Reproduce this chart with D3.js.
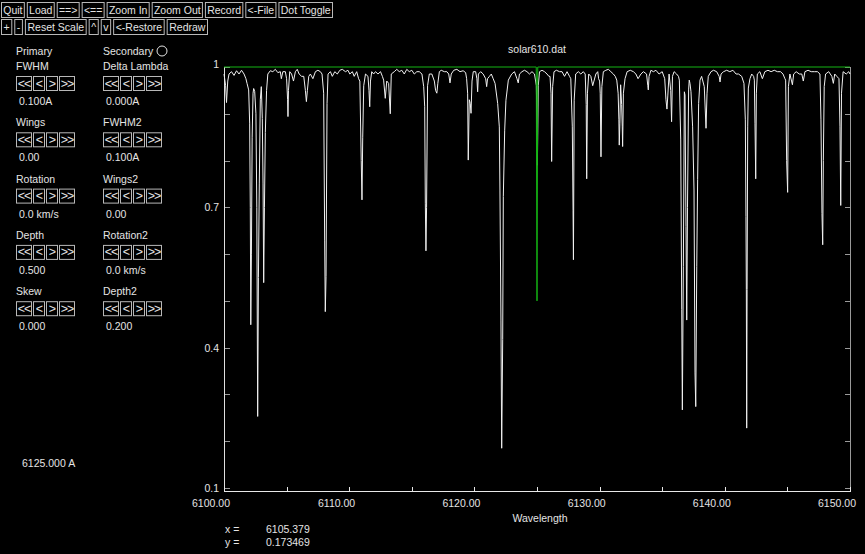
<!DOCTYPE html>
<html>
<head>
<meta charset="utf-8">
<script src="https://cdn.jsdelivr.net/npm/d3@7.9.0/dist/d3.min.js"></script>
<style>
  html, body { margin: 0; padding: 0; background: #000; }
  svg { display: block; }
  text { font-family: "Liberation Sans", "DejaVu Sans", sans-serif; font-size: 10.5px; fill: #e4e4e4; }
  text.step { font-size: 12.5px; }
</style>
</head>
<body>
<svg id="chart" width="865" height="554"></svg>
<script>
// ---- data ----
const fileName = 'solar610.dat';
const topButtons = ['Quit', 'Load', '==>', '<==', 'Zoom In', 'Zoom Out', 'Record', '<-File', 'Dot Toggle'];
const secondButtons = ['+', '-', 'Reset Scale', '^', 'v', '<-Restore', 'Redraw'];
const stepButtons = ['<<', '<', '>', '>>'];

const primaryParams = ['FWHM', 'Wings', 'Rotation', 'Depth', 'Skew'];
const primaryValues = ['0.100A', '0.00', '0.0 km/s', '0.500', '0.000'];
const secondaryParams = ['Delta Lambda', 'FWHM2', 'Wings2', 'Rotation2', 'Depth2'];
const secondaryValues = ['0.000A', '0.100A', '0.00', '0.0 km/s', '0.200'];
const lineCentre = '6125.000 A';

const xTicks = [6100, 6105, 6110, 6115, 6120, 6125, 6130, 6135, 6140, 6145, 6150];
const xTickLabels = [6100, 6110, 6120, 6130, 6140, 6150];
const yTicks = [0.1, 0.2, 0.3, 0.4, 0.5, 0.6, 0.7, 0.8, 0.9, 1];
const yTickLabels = [0.1, 0.4, 0.7, 1];
const cursorX = '6105.379';
const cursorY = '0.173469';

// model line (green): depth 0.5 at 6125.000 A
const modelLine = [[6100, 1], [6124.94, 1], [6125.0, 0.5], [6125.06, 1], [6150, 1]];

// observed spectrum [wavelength, flux]
const solarSpectrum = [
  [6100.00,0.985],[6100.13,0.96],[6100.20,0.924],[6100.30,0.97],[6100.40,0.985],
  [6100.60,0.99],[6100.80,0.982],[6101.00,0.992],[6101.20,0.985],[6101.40,0.993],[6101.60,0.985],[6101.75,0.975],
  [6101.84,0.965],[6101.97,0.951],[6102.05,0.88],[6102.10,0.70],[6102.14,0.449],[6102.19,0.60],[6102.25,0.85],
  [6102.32,0.944],[6102.37,0.954],[6102.45,0.948],[6102.55,0.90],[6102.62,0.70],[6102.69,0.253],[6102.75,0.55],
  [6102.82,0.75],[6102.90,0.93],[6102.98,0.958],[6103.06,0.89],[6103.12,0.75],[6103.17,0.539],[6103.23,0.70],
  [6103.30,0.86],[6103.40,0.95],[6103.50,0.985],
  [6103.70,0.992],[6103.90,0.99],[6104.10,0.995],[6104.30,0.988],[6104.50,0.99],[6104.58,0.975],[6104.70,0.99],[6104.90,0.99],
  [6105.00,0.975],[6105.08,0.93],[6105.11,0.894],[6105.15,0.95],[6105.25,0.99],
  [6105.40,0.985],[6105.55,0.97],[6105.70,0.99],[6105.85,0.995],[6106.00,0.985],[6106.20,0.98],
  [6106.37,0.98],[6106.50,0.95],[6106.58,0.926],[6106.66,0.95],[6106.77,0.98],
  [6106.90,0.985],[6107.10,0.975],[6107.30,0.99],[6107.50,0.993],[6107.70,0.99],
  [6107.83,0.985],[6107.96,0.944],[6108.04,0.63],[6108.09,0.477],[6108.15,0.552],[6108.23,0.922],[6108.31,0.985],
  [6108.50,0.99],[6108.65,0.98],[6108.85,0.99],[6109.05,0.985],[6109.25,0.993],[6109.45,0.995],[6109.70,0.99],
  [6109.90,0.993],[6110.05,0.985],[6110.25,0.99],[6110.40,0.98],[6110.60,0.99],[6110.75,0.975],
  [6110.85,0.97],[6110.96,0.80],[6111.02,0.716],[6111.08,0.85],[6111.16,0.96],[6111.30,0.985],
  [6111.50,0.98],[6111.58,0.95],[6111.64,0.915],[6111.70,0.97],[6111.80,0.99],
  [6111.95,0.985],[6112.10,0.99],[6112.30,0.985],[6112.50,0.99],[6112.65,0.98],
  [6112.75,0.972],[6112.88,0.933],[6113.00,0.97],[6113.15,0.965],[6113.28,0.90],[6113.36,0.985],
  [6113.60,0.99],[6113.80,0.995],[6114.00,0.99],[6114.20,0.993],[6114.40,0.985],[6114.60,0.995],[6114.80,0.99],
  [6115.00,0.993],[6115.20,0.985],[6115.40,0.99],[6115.60,0.99],
  [6115.81,0.985],[6115.95,0.958],[6116.03,0.915],[6116.08,0.709],[6116.13,0.607],[6116.18,0.70],[6116.26,0.96],[6116.40,0.985],
  [6116.60,0.985],[6116.80,0.97],[6116.90,0.95],[6117.00,0.944],[6117.08,0.965],[6117.20,0.99],
  [6117.35,0.993],[6117.60,0.99],[6117.80,0.99],[6117.95,0.985],[6118.05,0.966],[6118.15,0.985],
  [6118.35,0.993],[6118.60,0.995],[6118.85,0.99],[6119.10,0.992],[6119.30,0.988],
  [6119.38,0.975],[6119.46,0.944],[6119.51,0.801],[6119.59,0.93],[6119.67,0.922],[6119.73,0.901],[6119.81,0.97],[6119.91,0.99],
  [6120.10,0.99],[6120.20,0.975],[6120.26,0.947],[6120.32,0.985],[6120.50,0.99],[6120.70,0.985],[6120.90,0.975],
  [6120.98,0.958],[6121.05,0.975],[6121.20,0.98],
  [6121.35,0.985],[6121.50,0.975],[6121.65,0.965],[6121.86,0.922],[6121.99,0.872],[6122.04,0.737],[6122.12,0.459],
  [6122.18,0.185],[6122.26,0.417],[6122.31,0.723],[6122.42,0.865],[6122.52,0.929],[6122.71,0.972],[6122.98,0.985],
  [6123.20,0.99],[6123.40,0.975],[6123.50,0.966],[6123.60,0.985],[6123.80,0.99],[6124.00,0.993],[6124.20,0.99],
  [6124.40,0.985],[6124.60,0.99],[6124.80,0.985],
  [6124.95,0.96],[6125.03,0.79],[6125.10,0.96],
  [6125.20,0.99],[6125.40,0.993],[6125.60,0.99],[6125.80,0.985],[6125.95,0.98],
  [6126.04,0.98],[6126.12,0.944],[6126.17,0.798],[6126.25,0.958],[6126.36,0.99],
  [6126.55,0.993],[6126.80,0.99],[6127.00,0.99],[6127.20,0.98],[6127.40,0.99],[6127.60,0.98],
  [6127.70,0.975],[6127.82,0.872],[6127.88,0.694],[6127.91,0.588],[6127.97,0.929],[6128.09,0.985],
  [6128.30,0.99],[6128.50,0.985],[6128.70,0.99],
  [6128.85,0.985],[6128.93,0.92],[6128.97,0.761],[6129.03,0.944],[6129.13,0.985],
  [6129.30,0.98],[6129.45,0.96],[6129.55,0.97],[6129.70,0.985],[6129.85,0.99],[6129.92,0.975],
  [6130.00,0.97],[6130.05,0.944],[6130.11,0.808],[6130.18,0.958],[6130.30,0.99],
  [6130.50,0.993],[6130.70,0.995],[6130.90,0.99],[6131.10,0.985],[6131.25,0.98],
  [6131.37,0.972],[6131.48,0.944],[6131.54,0.887],[6131.57,0.833],[6131.62,0.88],[6131.68,0.962],[6131.76,0.92],
  [6131.81,0.872],[6131.84,0.83],[6131.90,0.944],[6132.03,0.975],
  [6132.20,0.99],[6132.45,0.993],[6132.70,0.99],[6132.90,0.985],[6133.07,0.975],
  [6133.30,0.985],[6133.50,0.99],[6133.75,0.985],[6133.85,0.96],[6133.89,0.951],[6133.95,0.98],[6134.10,0.993],
  [6134.30,0.99],[6134.50,0.993],[6134.75,0.985],[6135.00,0.99],[6135.20,0.975],[6135.30,0.93],[6135.38,0.91],
  [6135.45,0.94],[6135.55,0.985],[6135.68,0.95],[6135.75,0.883],[6135.82,0.98],[6135.95,0.99],[6136.15,0.985],[6136.30,0.98],
  [6136.37,0.972],[6136.48,0.844],[6136.56,0.481],[6136.61,0.267],[6136.69,0.573],[6136.77,0.947],[6136.82,0.94],
  [6136.90,0.659],[6136.96,0.459],[6137.02,0.70],[6137.11,0.951],[6137.16,0.972],[6137.22,0.965],[6137.30,0.947],
  [6137.43,0.872],[6137.54,0.737],[6137.62,0.346],[6137.68,0.274],[6137.76,0.573],[6137.83,0.759],[6137.91,0.922],
  [6138.02,0.972],[6138.15,0.98],[6138.36,0.958],[6138.50,0.869],[6138.58,0.944],[6138.68,0.98],[6138.90,0.99],
  [6139.10,0.993],[6139.35,0.99],[6139.55,0.98],[6139.62,0.968],[6139.70,0.985],[6139.90,0.99],[6140.15,0.993],
  [6140.40,0.99],[6140.65,0.993],[6140.90,0.985],[6141.10,0.985],
  [6141.35,0.98],[6141.53,0.965],[6141.64,0.887],[6141.69,0.68],[6141.72,0.524],[6141.75,0.228],[6141.78,0.524],
  [6141.83,0.872],[6141.88,0.955],[6142.01,0.975],[6142.15,0.985],[6142.30,0.98],
  [6142.36,0.972],[6142.41,0.88],[6142.47,0.761],[6142.52,0.944],[6142.60,0.985],
  [6142.80,0.99],[6143.00,0.975],[6143.20,0.99],[6143.45,0.993],[6143.70,0.99],[6143.95,0.993],[6144.20,0.99],
  [6144.45,0.99],[6144.65,0.985],[6144.80,0.975],
  [6144.86,0.972],[6144.94,0.80],[6145.02,0.732],[6145.08,0.958],[6145.20,0.985],[6145.33,0.97],[6145.40,0.962],[6145.50,0.985],
  [6145.70,0.99],[6145.95,0.985],[6146.15,0.985],[6146.27,0.97],[6146.40,0.99],[6146.65,0.993],[6146.90,0.99],
  [6147.15,0.99],[6147.40,0.99],
  [6147.60,0.985],[6147.68,0.887],[6147.76,0.687],[6147.82,0.62],[6147.87,0.80],[6147.94,0.958],[6148.05,0.985],
  [6148.30,0.99],[6148.55,0.98],[6148.67,0.965],[6148.78,0.985],[6148.95,0.98],
  [6149.12,0.975],[6149.20,0.872],[6149.26,0.704],[6149.32,0.944],[6149.45,0.99],[6149.70,0.985],[6149.90,0.99],[6150.00,0.985]
];

// ---- drawing ----
const svg = d3.select('#chart');

// button bars across the top
function buttonRow(labels, top, height, xStart, xEnd) {
  const g = svg.append('g');
  const texts = labels.map(l => g.append('text').text(l));
  const widths = texts.map(t => t.node().getComputedTextLength());
  const gap = 2;
  const pad = (xEnd - xStart - d3.sum(widths) - gap * (labels.length - 1)) / (2 * labels.length);
  let x = xStart;
  texts.forEach((t, i) => {
    const w = widths[i] + 2 * pad;
    g.insert('rect', 'text')
      .attr('x', x + 0.5).attr('y', top + 0.5)
      .attr('width', w - 1).attr('height', height - 1)
      .attr('fill', 'none').attr('stroke', '#b8b8b8');
    t.attr('x', x + pad).attr('y', top + height / 2).attr('dominant-baseline', 'central');
    x += w + gap;
  });
}
buttonRow(topButtons, 2, 16, 1, 333);
buttonRow(secondButtons, 19, 16, 1, 208);

// parameter panels
const stepWidths = [16, 12, 12, 16];
function panel(names, values, x0) {
  names.forEach((name, i) => {
    const yc = 66 + 56.3 * i;
    svg.append('text').attr('x', x0).attr('y', yc).attr('dominant-baseline', 'central').text(name);
    let bx = x0;
    stepButtons.forEach((b, j) => {
      svg.append('rect')
        .attr('x', bx + 0.5).attr('y', yc + 10.5)
        .attr('width', stepWidths[j] - 1).attr('height', 14)
        .attr('fill', 'none').attr('stroke', '#b8b8b8');
      svg.append('text').attr('class', 'step')
        .attr('x', bx + stepWidths[j] / 2).attr('y', yc + 17.5)
        .attr('text-anchor', 'middle').attr('dominant-baseline', 'central')
        .attr('letter-spacing', -1)
        .text(b);
      bx += stepWidths[j] + 1;
    });
    svg.append('text').attr('x', x0 + 3).attr('y', yc + 35)
      .attr('dominant-baseline', 'central').text(values[i]);
  });
}
svg.append('text').attr('x', 16).attr('y', 51).attr('dominant-baseline', 'central').text('Primary');
svg.append('text').attr('x', 103).attr('y', 51).attr('dominant-baseline', 'central').text('Secondary');
svg.append('circle').attr('cx', 162).attr('cy', 51).attr('r', 5)
  .attr('fill', 'none').attr('stroke', '#e4e4e4');
panel(primaryParams, primaryValues, 16);
panel(secondaryParams, secondaryValues, 103);
svg.append('text').attr('x', 22).attr('y', 463).attr('dominant-baseline', 'central').text(lineCentre);

// plot
const x = d3.scaleLinear().domain([6100, 6150]).range([224, 850]);
const y = d3.scaleLinear().domain([0.1, 1]).range([488, 67]);
const axisBottom = 491;

svg.append('text').attr('x', x(6125)).attr('y', 49)
  .attr('text-anchor', 'middle').attr('dominant-baseline', 'central').text(fileName);

// left axis
const left = svg.append('g');
left.append('line').attr('x1', 224.5).attr('x2', 224.5).attr('y1', 67).attr('y2', axisBottom)
  .attr('stroke', '#e0e0e0');
left.selectAll('.yt').data(yTicks).join('line')
  .attr('x1', 225).attr('x2', 230)
  .attr('y1', d => Math.round(y(d)) + 0.5).attr('y2', d => Math.round(y(d)) + 0.5)
  .attr('stroke', '#9a9a9a');
left.selectAll('.yl').data(yTickLabels).join('text')
  .attr('x', 219).attr('y', d => y(d) - (d === 1 ? 3 : 0))
  .attr('text-anchor', 'end').attr('dominant-baseline', 'central')
  .text(d => d3.format('.1~f')(d));

// right axis
const right = svg.append('g');
right.append('line').attr('x1', 850.5).attr('x2', 850.5).attr('y1', 67).attr('y2', axisBottom)
  .attr('stroke', '#9a9a9a');
right.selectAll('line.t').data(yTicks).join('line')
  .attr('x1', 845).attr('x2', 850)
  .attr('y1', d => Math.round(y(d)) + 0.5).attr('y2', d => Math.round(y(d)) + 0.5)
  .attr('stroke', '#9a9a9a');

// bottom axis
const bottom = svg.append('g');
bottom.append('line').attr('x1', 224).attr('x2', 851).attr('y1', axisBottom + 0.5).attr('y2', axisBottom + 0.5)
  .attr('stroke', '#e8e8e8');
bottom.selectAll('line.t').data(xTicks).join('line')
  .attr('x1', d => Math.round(x(d)) + 0.5).attr('x2', d => Math.round(x(d)) + 0.5)
  .attr('y1', axisBottom - 4).attr('y2', axisBottom)
  .attr('stroke', '#e8e8e8');
bottom.selectAll('text').data(xTickLabels).join('text')
  .attr('x', d => x(d) + 6).attr('y', 503)
  .attr('text-anchor', 'end').attr('dominant-baseline', 'central')
  .text(d => d.toFixed(2));
svg.append('text').attr('x', x(6125) + 3).attr('y', 518)
  .attr('text-anchor', 'middle').attr('dominant-baseline', 'central').text('Wavelength');

// cursor readout
svg.append('text').attr('x', 225).attr('y', 529).attr('dominant-baseline', 'central').text('x =');
svg.append('text').attr('x', 266).attr('y', 529).attr('dominant-baseline', 'central').text(cursorX);
svg.append('text').attr('x', 225).attr('y', 542).attr('dominant-baseline', 'central').text('y =');
svg.append('text').attr('x', 266).attr('y', 542).attr('dominant-baseline', 'central').text(cursorY);

// spectrum
const line = d3.line().x(d => x(d[0])).y(d => y(d[1]));
svg.append('path').datum(solarSpectrum)
  .attr('d', line).attr('fill', 'none')
  .attr('stroke', '#f0f0f0').attr('stroke-width', 1);

// model line on top
svg.append('path').datum(modelLine)
  .attr('d', line).attr('fill', 'none')
  .attr('stroke', '#14b414').attr('stroke-width', 1);
</script>
</body>
</html>
